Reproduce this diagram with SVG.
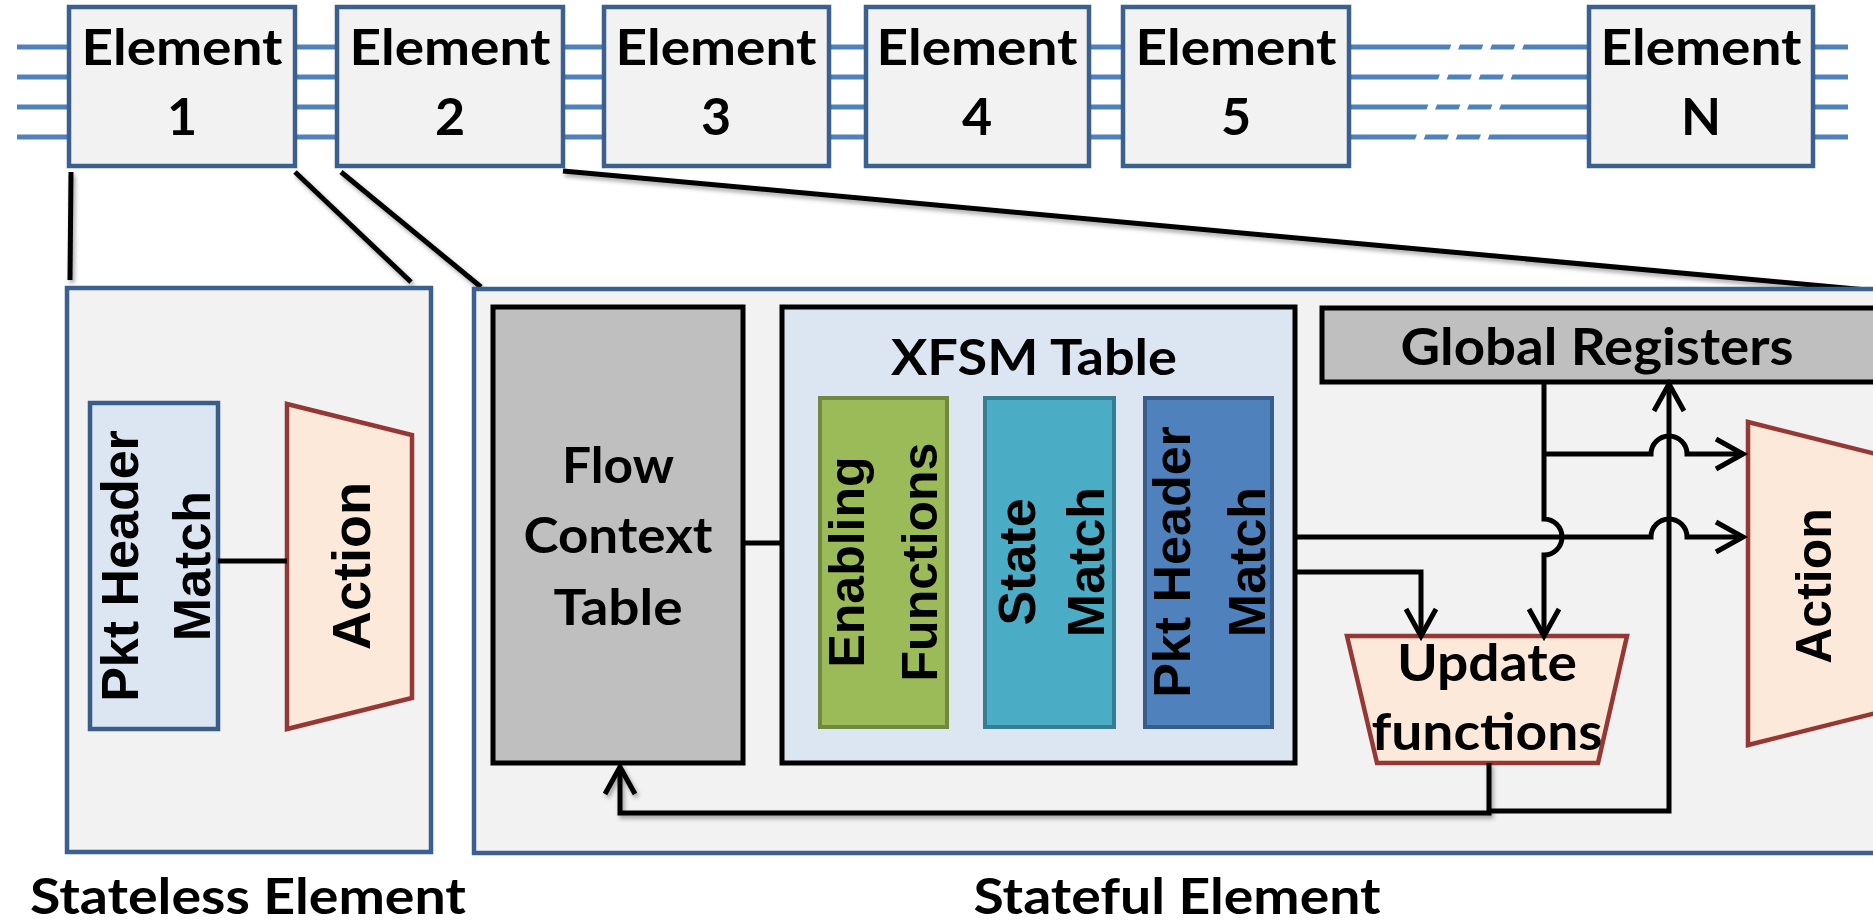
<svg xmlns="http://www.w3.org/2000/svg" width="1873" height="924" viewBox="0 0 1873 924">
<style>
.elbox{fill:#f2f2f2;stroke:#3b6090;stroke-width:4.5}
.bus{stroke:#4f81bd;stroke-width:5;fill:none}
.cal{font-family:Lato,"Open Sans",sans-serif;font-weight:bold;fill:#000;text-anchor:middle}
.ari{font-family:"Liberation Sans",Arial,sans-serif;font-weight:bold;fill:#000;text-anchor:middle}
.zoomline{stroke:#000;stroke-width:5;fill:none}
.conn{stroke:#000;stroke-width:5;fill:none;stroke-linejoin:miter}
.trap{fill:#fde9d9;stroke:#953735;stroke-width:4.5}
</style>
<defs>
<marker id="arr" markerUnits="userSpaceOnUse" markerWidth="40" markerHeight="40" viewBox="-32 -20 40 40" refX="0" refY="0" orient="auto">
<path d="M-27,-15 L0,0 L-27,15" fill="none" stroke="#000" stroke-width="5"/>
</marker>
<filter id="shadow" x="-10%" y="-10%" width="120%" height="130%">
<feDropShadow dx="2" dy="3" stdDeviation="2" flood-color="#000" flood-opacity="0.35"/>
</filter>
</defs>
<rect width="1873" height="924" fill="#fff"/>

<g id="bus">
<line class="bus" x1="17" y1="47" x2="1848" y2="47"/>
<line class="bus" x1="17" y1="77" x2="1848" y2="77"/>
<line class="bus" x1="17" y1="107" x2="1848" y2="107"/>
<line class="bus" x1="17" y1="137" x2="1848" y2="137"/>
<g stroke="#fff" stroke-width="8">
<line x1="1418" y1="143" x2="1457" y2="41"/>
<line x1="1450" y1="143" x2="1489" y2="41"/>
<line x1="1482" y1="143" x2="1521" y2="41"/>
</g>
</g>

<g id="element1"><rect class="elbox" x="69" y="7" width="226" height="159"/><text class="cal" x="182" y="65" font-size="50" textLength="201" lengthAdjust="spacingAndGlyphs">Element</text><text class="cal" x="182" y="135" font-size="52">1</text></g>
<g id="element2"><rect class="elbox" x="337" y="7" width="226" height="159"/><text class="cal" x="450" y="65" font-size="50" textLength="201" lengthAdjust="spacingAndGlyphs">Element</text><text class="cal" x="450" y="135" font-size="52">2</text></g>
<g id="element3"><rect class="elbox" x="604" y="7" width="225" height="159"/><text class="cal" x="716" y="65" font-size="50" textLength="201" lengthAdjust="spacingAndGlyphs">Element</text><text class="cal" x="716" y="135" font-size="52">3</text></g>
<g id="element4"><rect class="elbox" x="866" y="7" width="223" height="159"/><text class="cal" x="977" y="65" font-size="50" textLength="201" lengthAdjust="spacingAndGlyphs">Element</text><text class="cal" x="977" y="135" font-size="52">4</text></g>
<g id="element5"><rect class="elbox" x="1123" y="7" width="226" height="159"/><text class="cal" x="1236" y="65" font-size="50" textLength="201" lengthAdjust="spacingAndGlyphs">Element</text><text class="cal" x="1236" y="135" font-size="52">5</text></g>
<g id="elementN"><rect class="elbox" x="1589" y="7" width="224" height="159"/><text class="cal" x="1701" y="65" font-size="50" textLength="201" lengthAdjust="spacingAndGlyphs">Element</text><text class="cal" x="1701" y="135" font-size="52">N</text></g>

<g id="zoom-lines" filter="url(#shadow)">
<line class="zoomline" x1="71" y1="172" x2="70" y2="280"/>
<line class="zoomline" x1="295" y1="172" x2="411" y2="282"/>
<line class="zoomline" x1="341" y1="172" x2="481" y2="287"/>
<line class="zoomline" x1="563" y1="171" x2="1900" y2="293"/>
</g>

<g id="stateless-element">
<rect class="elbox" x="67" y="288" width="364" height="564"/>
<text class="cal" x="248" y="914" font-size="50" textLength="436" lengthAdjust="spacingAndGlyphs">Stateless Element</text>
</g>
<g id="stateless-match">
<rect x="90" y="403" width="128" height="326" fill="#dce6f2" stroke="#385d8a" stroke-width="4.5"/>
<text class="ari" font-size="52" transform="translate(138,566) rotate(-90)">Pkt Header</text>
<text class="ari" font-size="52" transform="translate(210,566) rotate(-90)">Match</text>
</g>
<g id="stateless-action">
<polygon class="trap" points="287,404 412,435 412,698 287,729"/>
<text class="ari" font-size="54" transform="translate(370,566) rotate(-90)">Action</text>
</g>

<g id="stateful-element">
<rect class="elbox" x="474" y="289" width="1420" height="564"/>
<text class="cal" x="1177" y="914" font-size="50" textLength="407" lengthAdjust="spacingAndGlyphs">Stateful Element</text>
</g>
<g id="flow-context-table">
<rect x="493" y="307" width="250" height="456" fill="#bfbfbf" stroke="#000" stroke-width="5"/>
<text class="cal" x="618" y="483" font-size="50" textLength="112" lengthAdjust="spacingAndGlyphs">Flow</text>
<text class="cal" x="618" y="553" font-size="50" textLength="189" lengthAdjust="spacingAndGlyphs">Context</text>
<text class="cal" x="618" y="625" font-size="50" textLength="129" lengthAdjust="spacingAndGlyphs">Table</text>
</g>
<g id="xfsm-table">
<rect x="782" y="307" width="513" height="456" fill="#dce6f2" stroke="#000" stroke-width="5"/>
<text class="cal" x="1034" y="375" font-size="50" textLength="286" lengthAdjust="spacingAndGlyphs">XFSM Table</text>
</g>
<g id="enabling-functions">
<rect x="820" y="398" width="127" height="329" fill="#9bbb59" stroke="#71893f" stroke-width="4"/>
<text class="ari" font-size="50" transform="translate(864,562) rotate(-90)">Enabling</text>
<text class="ari" font-size="50" transform="translate(937,562) rotate(-90)">Functions</text>
</g>
<g id="state-match">
<rect x="985" y="398" width="129" height="329" fill="#4bacc6" stroke="#357d91" stroke-width="4"/>
<text class="ari" font-size="52" transform="translate(1035,562) rotate(-90)">State</text>
<text class="ari" font-size="52" transform="translate(1104,562) rotate(-90)">Match</text>
</g>
<g id="pkt-header-match">
<rect x="1145" y="398" width="127" height="329" fill="#4f81bd" stroke="#385d8a" stroke-width="4"/>
<text class="ari" font-size="52" transform="translate(1190,562) rotate(-90)">Pkt Header</text>
<text class="ari" font-size="52" transform="translate(1265,562) rotate(-90)">Match</text>
</g>
<g id="global-registers">
<rect x="1322" y="308" width="580" height="74" fill="#bfbfbf" stroke="#000" stroke-width="5"/>
<text class="cal" x="1597" y="365" font-size="52" textLength="393" lengthAdjust="spacingAndGlyphs">Global Registers</text>
</g>
<g id="update-functions">
<polygon class="trap" points="1347,636 1627,636 1598,763 1377,763"/>
<text class="cal" x="1487" y="681" font-size="52" textLength="180" lengthAdjust="spacingAndGlyphs">Update</text>
<text class="cal" x="1487" y="750" font-size="52" textLength="231" lengthAdjust="spacingAndGlyphs">functions</text>
</g>
<g id="stateful-action">
<polygon class="trap" points="1748,422 1876,454 1876,713 1748,745"/>
<text class="ari" font-size="50" transform="translate(1831,586) rotate(-90)">Action</text>
</g>

<g id="connectors">
<line class="conn" x1="218" y1="561" x2="287" y2="561"/>
<line class="conn" x1="743" y1="543" x2="782" y2="543"/>
<path class="conn" d="M1544,382 V519 A18,18 0 0 1 1544,555 V636" marker-end="url(#arr)"/>
<path class="conn" d="M1544,454 H1651 A18,18 0 0 1 1687,454 H1743" marker-end="url(#arr)"/>
<path class="conn" d="M1295,537 H1651 A18,18 0 0 1 1687,537 H1743" marker-end="url(#arr)"/>
<path class="conn" d="M1295,572 H1421 V636" marker-end="url(#arr)"/>
<path class="conn" d="M1489,763 V813 H620 V767" stroke-width="7" filter="url(#shadow)" marker-end="url(#arr)"/>
<path class="conn" d="M1489,811 H1669 V384" marker-end="url(#arr)"/>
</g>
</svg>
